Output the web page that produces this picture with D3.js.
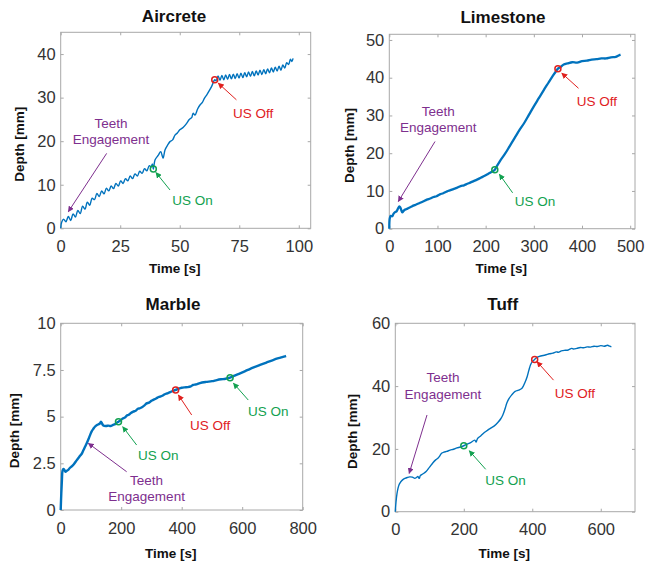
<!DOCTYPE html>
<html>
<head>
<meta charset="utf-8">
<script src="https://cdn.jsdelivr.net/npm/d3@7"></script>
<style>
  body { margin: 0; background: #fff; }
  svg { font-family: "Liberation Sans", Arial, sans-serif; }
</style>
</head>
<body>
<div id="chart"></div>
<script>
// Depth vs time: [time s, depth mm]
let aircreteData = [
  [0,0],[0.4,1.4],[1.2,2.1],[2.2,1.5],[3.2,2.7],[4.2,1.8],[5.2,3.3],[6.2,2.6],[7.2,4.1],[8.2,3.4],
  [9.2,5.1],[10.2,4.4],[11.2,6.0],[12.2,5.3],[13.2,6.9],[14.2,6.6],[15.2,8.0],[16.2,7.3],[17.2,8.6],
  [18.2,7.9],[19.2,9.2],[20.2,8.6],[21.2,9.7],[22.2,9.1],[23.2,10.3],[24.2,9.7],[25.2,10.9],[26.2,10.3],
  [27.2,11.4],[28.2,10.9],[29.2,12.0],[30.2,11.4],[31.2,12.5],[32.2,12.0],[33.2,13.1],[34.2,12.6],
  [35.2,13.7],[36.2,13.2],[37.2,14.4],[38.0,14.1],[38.5,14.8],[38.9,13.6],
  [39.6,15.7],[41.0,16.8],[42.0,17.6],[43.0,16.1],[43.8,18.0],[45.0,19.2],[45.9,19.9],[47.0,20.3],
  [48.0,21.4],[49.0,21.9],[50.0,22.6],[51.5,23.2],[52.9,24.1],[54.0,25.0],[55.0,25.4],[55.6,26.4],
  [56.4,26.0],[57.5,27.4],[58.5,28.3],[59.5,28.9],[60.4,29.9],[61.3,30.6],[62.4,31.6],[63.4,32.6],[64.7,34.1],
  [65.3,33.9],[66.1,35.0],[66.9,34.0],[67.7,35.1],[68.5,34.1],[69.3,35.2],[70.1,34.2],[70.9,35.3],
  [71.7,34.3],[72.5,35.4],[73.3,34.4],[74.1,35.5],[74.9,34.5],[75.7,35.6],[76.5,34.6],[77.3,35.7],
  [78.1,34.8],[78.9,35.9],[79.7,34.9],[80.5,36.0],[81.3,35.0],[82.1,36.1],[82.9,35.2],[83.7,36.3],
  [84.5,35.3],[85.3,36.4],[86.1,35.5],[86.9,36.6],[87.7,35.7],[88.5,36.8],[89.3,35.9],[90.1,37.0],
  [90.9,36.1],[91.7,37.2],[92.5,36.3],[93.3,37.5],[94.1,36.8],[94.9,38.0],[95.7,37.6],[96.5,38.8],
  [97.1,38.3],[97.6,39.0]
];
let limestoneData = [
  [0,0],[1,2.8],[3,3.4],[6,3.3],[9,4.0],[12,4.4],[15,4.6],[18,5.3],[21,5.9],[23,5.6],[25,4.9],
  [27,4.3],[29,4.6],[32,5.0],[36,5.2],[40,5.5],[45,5.8],[50,6.1],[56,6.4],[63,6.8],[70,7.2],[78,7.7],
  [85,8.0],[92,8.4],[98,8.6],[105,9.1],[112,9.4],[120,9.9],[127,10.2],[133,10.5],[140,10.8],[148,11.3],
  [155,11.5],[162,11.9],[168,12.2],[175,12.6],[182,13.0],[190,13.5],[198,14.0],[205,14.5],[212,15.0],
  [219,15.6],[222,16.3],[230,18.0],[240,19.8],[250,21.9],[260,24.0],[271,26.3],[280,28.0],[290,30.2],
  [300,32.4],[310,34.5],[320,36.6],[330,38.6],[340,40.6],[346,41.7],[350,42.4],[355,42.8],[362,43.5],
  [370,43.8],[380,44.1],[390,44.0],[400,44.4],[410,44.5],[420,44.8],[430,44.9],[440,45.1],[450,45.1],
  [460,45.4],[470,45.5],[476,45.9],[480,46.1]
];
let marbleData = [
  [0,0],[2,0.9],[4,1.6],[6,2.1],[9,2.2],[12,2.15],[16,2.05],[20,2.1],[25,2.15],[30,2.25],[36,2.33],
  [42,2.42],[50,2.6],[58,2.77],[64,2.9],[69,3.0],[75,3.2],[80,3.37],[86,3.57],[92,3.8],[98,4.05],
  [102,4.2],[108,4.35],[113,4.46],[120,4.55],[126,4.6],[130,4.64],[133,4.73],[137,4.62],[141,4.52],
  [150,4.5],[158,4.52],[165,4.5],[172,4.55],[180,4.6],[186,4.68],[191,4.73],[198,4.8],[205,4.9],
  [212,4.95],[218,5.05],[225,5.1],[232,5.2],[240,5.27],[248,5.32],[255,5.42],[262,5.45],[270,5.52],
  [277,5.6],[284,5.71],[292,5.75],[300,5.85],[306,5.9],[314,5.96],[320,6.02],[328,6.07],[336,6.12],
  [344,6.2],[352,6.25],[360,6.3],[368,6.36],[374,6.4],[380,6.43],[390,6.5],[400,6.55],[410,6.57],
  [420,6.58],[430,6.62],[438,6.7],[446,6.72],[452,6.75],[460,6.8],[480,6.86],[500,6.9],[516,6.96],
  [530,7.0],[545,7.03],[560,7.09],[575,7.2],[593,7.32],[610,7.44],[625,7.55],[640,7.65],[659,7.77],
  [680,7.9],[700,8.02],[720,8.13],[735,8.2],[745,8.25]
];
let tuffData = [
  [0,0],[2,3],[5,5.8],[8,7.5],[11,8.6],[14,9.2],[18,9.8],[23,10.3],[28,10.6],[35,10.9],[42,11.1],
  [50,11.0],[57,10.6],[62,10.9],[66,11.2],[70,10.6],[73,11.5],[80,12.0],[90,12.8],[100,14.2],[110,15.6],
  [118,16.5],[125,17.1],[130,17.8],[135,18.6],[142,19.0],[150,19.2],[160,19.6],[170,19.9],[180,20.3],
  [190,20.6],[200,21.0],[210,21.5],[220,22.0],[232,22.8],[236,22.2],[240,23.3],[250,24.2],[260,25.2],
  [270,26.0],[280,26.7],[290,27.4],[300,28.5],[308,29.6],[314,30.8],[320,32.6],[326,34.7],[332,36.0],
  [340,37.2],[350,38.3],[360,38.7],[370,39.3],[378,41.0],[385,43.0],[390,45.0],[395,46.8],[400,47.8],
  [407,48.5],[415,49.2],[425,49.6],[438,49.9],[450,50.3],[460,50.5],[470,50.9],[476,50.8],[485,51.2],
  [495,51.4],[505,51.5],[515,52.0],[520,51.8],[530,52.0],[540,52.3],[550,52.2],[560,52.5],[570,52.4],
  [580,52.7],[590,52.6],[600,52.9],[610,52.7],[620,53.0],[626,52.7],[631,52.5]
];

// US on / off points
let aircreteEvents = [["on", 38.9, 13.6], ["off", 64.7, 34.1]];
let limestoneEvents = [["on", 219, 15.6], ["off", 350, 42.4]];
let marbleEvents = [["on", 191, 4.73], ["off", 380, 6.43], ["on", 560, 7.09]];
let tuffEvents = [["on", 200, 21.0], ["off", 407, 48.5]];

// annotations: kind, text lines, text anchor [t, d], arrow from [t, d], arrow to [t, d]
let aircreteNotes = [
  ["teeth", ["Teeth", "Engagement"], [21.1, 22.2], [19.3, 17.2], [3.2, 3.8]],
  ["on", ["US On"], [55.4, 6.5], [45.9, 8.8], [40.0, 12.8]],
  ["off", ["US Off"], [80.8, 26.4], [73.8, 29.5], [66.2, 33.3]]
];
let limestoneNotes = [
  ["teeth", ["Teeth", "Engagement"], [101.8, 28.9], [94.9, 23.1], [18.7, 7.2]],
  ["on", ["US On"], [302.6, 7.2], [256, 9.5], [228.5, 14.4]],
  ["off", ["US Off"], [430.7, 33.7], [392.7, 37.2], [358, 41.2]]
];
let marbleNotes = [
  ["teeth", ["Teeth", "Engagement"], [284, 1.16], [218, 2.05], [91.5, 3.57]],
  ["on", ["US On"], [322.9, 2.95], [251, 3.48], [205, 4.46]],
  ["off", ["US Off"], [493.7, 4.55], [433, 5.09], [389, 6.16]],
  ["on", ["US On"], [686.5, 5.27], [620, 5.89], [571, 6.79]]
];
let tuffNotes = [
  ["teeth", ["Teeth", "Engagement"], [139, 40.1], [92.6, 30.8], [40.5, 12.2]],
  ["on", ["US On"], [322, 10.1], [264, 13.5], [216, 19.4]],
  ["off", ["US Off"], [524.7, 37.7], [462, 41.9], [413.8, 47.8]]
];

let aircreteXTicks = [0, 25, 50, 75, 100];
let aircreteYTicks = [0, 10, 20, 30, 40];
let limestoneXTicks = [0, 100, 200, 300, 400, 500];
let limestoneYTicks = [0, 10, 20, 30, 40, 50];
let marbleXTicks = [0, 200, 400, 600, 800];
let marbleYTicks = [0, 2.5, 5, 7.5, 10];
let tuffXTicks = [0, 200, 400, 600];
let tuffYTicks = [0, 20, 40, 60];

let colors = { line: "#0072BD", teeth: "#7E2F8E", on: "#12A150", off: "#E0201E" };

let svg = d3.select("#chart")
  .append("svg")
  .attr("width", 646)
  .attr("height", 564);

// arrowheads
let defs = svg.append("defs");
["teeth", "on", "off"].forEach(k => {
  defs.append("marker")
    .attr("id", "head-" + k)
    .attr("viewBox", "0 0 10 10")
    .attr("refX", 9).attr("refY", 5)
    .attr("markerWidth", 6).attr("markerHeight", 6)
    .attr("markerUnits", "userSpaceOnUse")
    .attr("orient", "auto")
    .append("path")
    .attr("d", "M0,0 L10,5 L0,10 z")
    .attr("fill", colors[k]);
});

let panels = [
  { title: "Aircrete", data: aircreteData, events: aircreteEvents, notes: aircreteNotes,
    xDomain: [0, 105], yDomain: [0, 45], xTicks: aircreteXTicks, yTicks: aircreteYTicks,
    box: [60.7, 32.3, 310.7, 228.3], titlePos: [174, 22], yLabelX: 19, xLabelY: 268.5, lw: 1.4 },
  { title: "Limestone", data: limestoneData, events: limestoneEvents, notes: limestoneNotes,
    xDomain: [0, 510], yDomain: [0, 51.5], xTicks: limestoneXTicks, yTicks: limestoneYTicks,
    box: [389.3, 34.3, 635, 228.7], titlePos: [503, 23.3], yLabelX: 349, xLabelY: 268.5, lw: 2.3 },
  { title: "Marble", data: marbleData, events: marbleEvents, notes: marbleNotes,
    xDomain: [0, 800], yDomain: [0, 10], xTicks: marbleXTicks, yTicks: marbleYTicks,
    box: [60.7, 323.3, 302.7, 510], titlePos: [173, 310], yLabelX: 14, xLabelY: 553, lw: 2.4 },
  { title: "Tuff", data: tuffData, events: tuffEvents, notes: tuffNotes,
    xDomain: [0, 700], yDomain: [0, 60], xTicks: tuffXTicks, yTicks: tuffYTicks,
    box: [395.3, 323.3, 635, 511.7], titlePos: [502.7, 309.5], yLabelX: 352, xLabelY: 553, lw: 1.4 }
];

panels.forEach(p => {
  let [x0, y0, x1, y1] = p.box;
  let x = d3.scaleLinear().domain(p.xDomain).range([x0, x1]);
  let y = d3.scaleLinear().domain(p.yDomain).range([y1, y0]);
  let g = svg.append("g");

  // box
  g.append("rect")
    .attr("x", x0).attr("y", y0)
    .attr("width", x1 - x0).attr("height", y1 - y0)
    .attr("fill", "none").attr("stroke", "#a8a8a8").attr("stroke-width", 1);

  let fmt = d => String(d);
  let axes = [
    [d3.axisBottom(x).tickValues(p.xTicks).tickFormat(fmt).tickPadding(12), `translate(0,${y1})`],
    [d3.axisTop(x).tickValues(p.xTicks).tickFormat(""), `translate(0,${y0})`],
    [d3.axisLeft(y).tickValues(p.yTicks).tickFormat(fmt).tickPadding(5), `translate(${x0},0)`],
    [d3.axisRight(y).tickValues(p.yTicks).tickFormat(""), `translate(${x1},0)`]
  ];
  axes.forEach(([ax, tr]) => {
    let a = g.append("g")
      .attr("transform", tr)
      .call(ax.tickSizeInner(-3).tickSizeOuter(0));
    a.select(".domain").remove();
    a.selectAll("line").attr("stroke", "#a8a8a8");
    a.selectAll("text")
      .attr("fill", "#333")
      .style("font-size", "16.5px")
      .style("font-family", "'Liberation Sans', Arial, sans-serif");
  });

  // title and axis labels
  g.append("text")
    .attr("x", p.titlePos[0]).attr("y", p.titlePos[1])
    .attr("text-anchor", "middle")
    .style("font-size", "17px").style("font-weight", "bold")
    .attr("fill", "#111")
    .text(p.title);

  g.append("text")
    .attr("x", (x0 + x1) / 2 - 11).attr("y", p.xLabelY)
    .attr("dy", "0.35em")
    .attr("text-anchor", "middle")
    .style("font-size", "13.5px").style("font-weight", "bold")
    .attr("fill", "#111")
    .text("Time [s]");

  g.append("text")
    .attr("transform", `translate(${p.yLabelX},${(y0 + y1) / 2 + 14}) rotate(-90)`)
    .attr("dy", "0.35em")
    .attr("text-anchor", "middle")
    .style("font-size", "13.5px").style("font-weight", "bold")
    .attr("fill", "#111")
    .text("Depth [mm]");

  // curve
  let line = d3.line().x(d => x(d[0])).y(d => y(d[1])).curve(d3.curveCatmullRom.alpha(0.5));
  g.append("path")
    .datum(p.data)
    .attr("d", line)
    .attr("fill", "none")
    .attr("stroke", colors.line)
    .attr("stroke-width", p.lw)
    .attr("stroke-linejoin", "round");

  // annotations
  p.notes.forEach(n => {
    let [kind, lines, tp, from, to] = n;
    g.append("line")
      .attr("x1", x(from[0])).attr("y1", y(from[1]))
      .attr("x2", x(to[0])).attr("y2", y(to[1]))
      .attr("stroke", colors[kind])
      .attr("stroke-width", 1)
      .attr("marker-end", `url(#head-${kind})`);
    let t = g.append("text")
      .attr("x", x(tp[0])).attr("y", y(tp[1]))
      .attr("text-anchor", "middle")
      .attr("fill", colors[kind])
      .style("font-size", "13.5px");
    lines.forEach((s, i) => {
      t.append("tspan")
        .attr("x", x(tp[0]))
        .attr("dy", i === 0 ? (lines.length > 1 ? "-0.25em" : "0.35em") : "1.2em")
        .text(s);
    });
  });

  // event markers
  g.selectAll(".ev")
    .data(p.events)
    .enter()
    .append("circle")
    .attr("cx", d => x(d[1]))
    .attr("cy", d => y(d[2]))
    .attr("r", 3)
    .attr("fill", "none")
    .attr("stroke", d => colors[d[0]])
    .attr("stroke-width", 1.5);
});
</script>
</body>
</html>
